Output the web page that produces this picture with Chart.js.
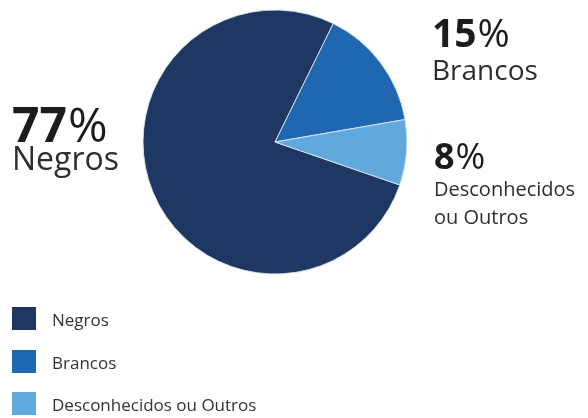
<!DOCTYPE html>
<html>
<head>
<meta charset="utf-8">
<script src="https://cdn.jsdelivr.net/npm/chart.js@4.4.0/dist/chart.umd.min.js"></script>
<style>
  html, body { margin: 0; padding: 0; background: #fff; }
  #wrap { position: relative; width: 588px; height: 418px; overflow: hidden; font-family: "Open Sans", "Noto Sans", sans-serif; }
  #c { position: absolute; left: 0; top: 0; }
  .t { position: absolute; white-space: nowrap; line-height: 1; }
  .num { font-weight: 700; color: #1c1c1c; }
  .num span { font-weight: 400; margin-left: 1px; }
  .lab { color: #2e2e2e; }
  .sw { position: absolute; width: 24px; height: 23px; }
  .lg { position: absolute; line-height: 1; font-size: 17px; color: #333; white-space: nowrap; }
</style>
</head>
<body>
<div id="wrap">
  <canvas id="c" width="588" height="418"></canvas>
</div>
<script>
const categories = ["Negros", "Brancos", "Desconhecidos ou Outros"];
const values = [77, 15, 8];
const colors = ["#1f3763", "#2067b1", "#60a9de"];
const pctLabels = ["77", "15", "8"];

const wrap = document.getElementById('wrap');
function addText(txt, cls, left, top, size, pct) {
  const d = document.createElement('div');
  d.className = 't ' + cls;
  d.textContent = txt;
  if (pct) {
    const s = document.createElement('span');
    s.textContent = '%';
    d.appendChild(s);
  }
  d.style.left = left + 'px';
  d.style.top = top + 'px';
  d.style.fontSize = size + 'px';
  wrap.appendChild(d);
}
// callout labels
addText(pctLabels[0], 'num', 12, 100, 48, true);
addText(categories[0], 'lab', 12, 142, 32);
addText(pctLabels[1], 'num', 432, 12, 39, true);
addText(categories[1], 'lab', 432, 55, 28);
addText(pctLabels[2], 'num', 434, 138, 36, true);
addText("Desconhecidos", 'lab', 434, 179, 20);
addText("ou Outros", 'lab', 434, 207, 20);

// legend
const legTops = [307, 350, 392];
categories.forEach((name, i) => {
  const s = document.createElement('div');
  s.className = 'sw';
  s.style.left = '12px';
  s.style.top = legTops[i] + 'px';
  s.style.background = colors[i];
  wrap.appendChild(s);
  const l = document.createElement('div');
  l.className = 'lg';
  l.textContent = name;
  l.style.left = '52px';
  l.style.top = (legTops[i] + 4) + 'px';
  wrap.appendChild(l);
});

new Chart(document.getElementById('c'), {
  type: 'pie',
  data: {
    labels: categories,
    datasets: [{
      data: values,
      backgroundColor: colors,
      borderColor: 'rgba(220,230,240,0.9)',
      borderWidth: 1,
      radius: 132
    }]
  },
  options: {
    responsive: false,
    animation: false,
    rotation: 109,
    layout: { padding: { left: 0, right: 38, top: 0, bottom: 134 } },
    plugins: { legend: { display: false }, tooltip: { enabled: false } }
  }
});
</script>
</body>
</html>
